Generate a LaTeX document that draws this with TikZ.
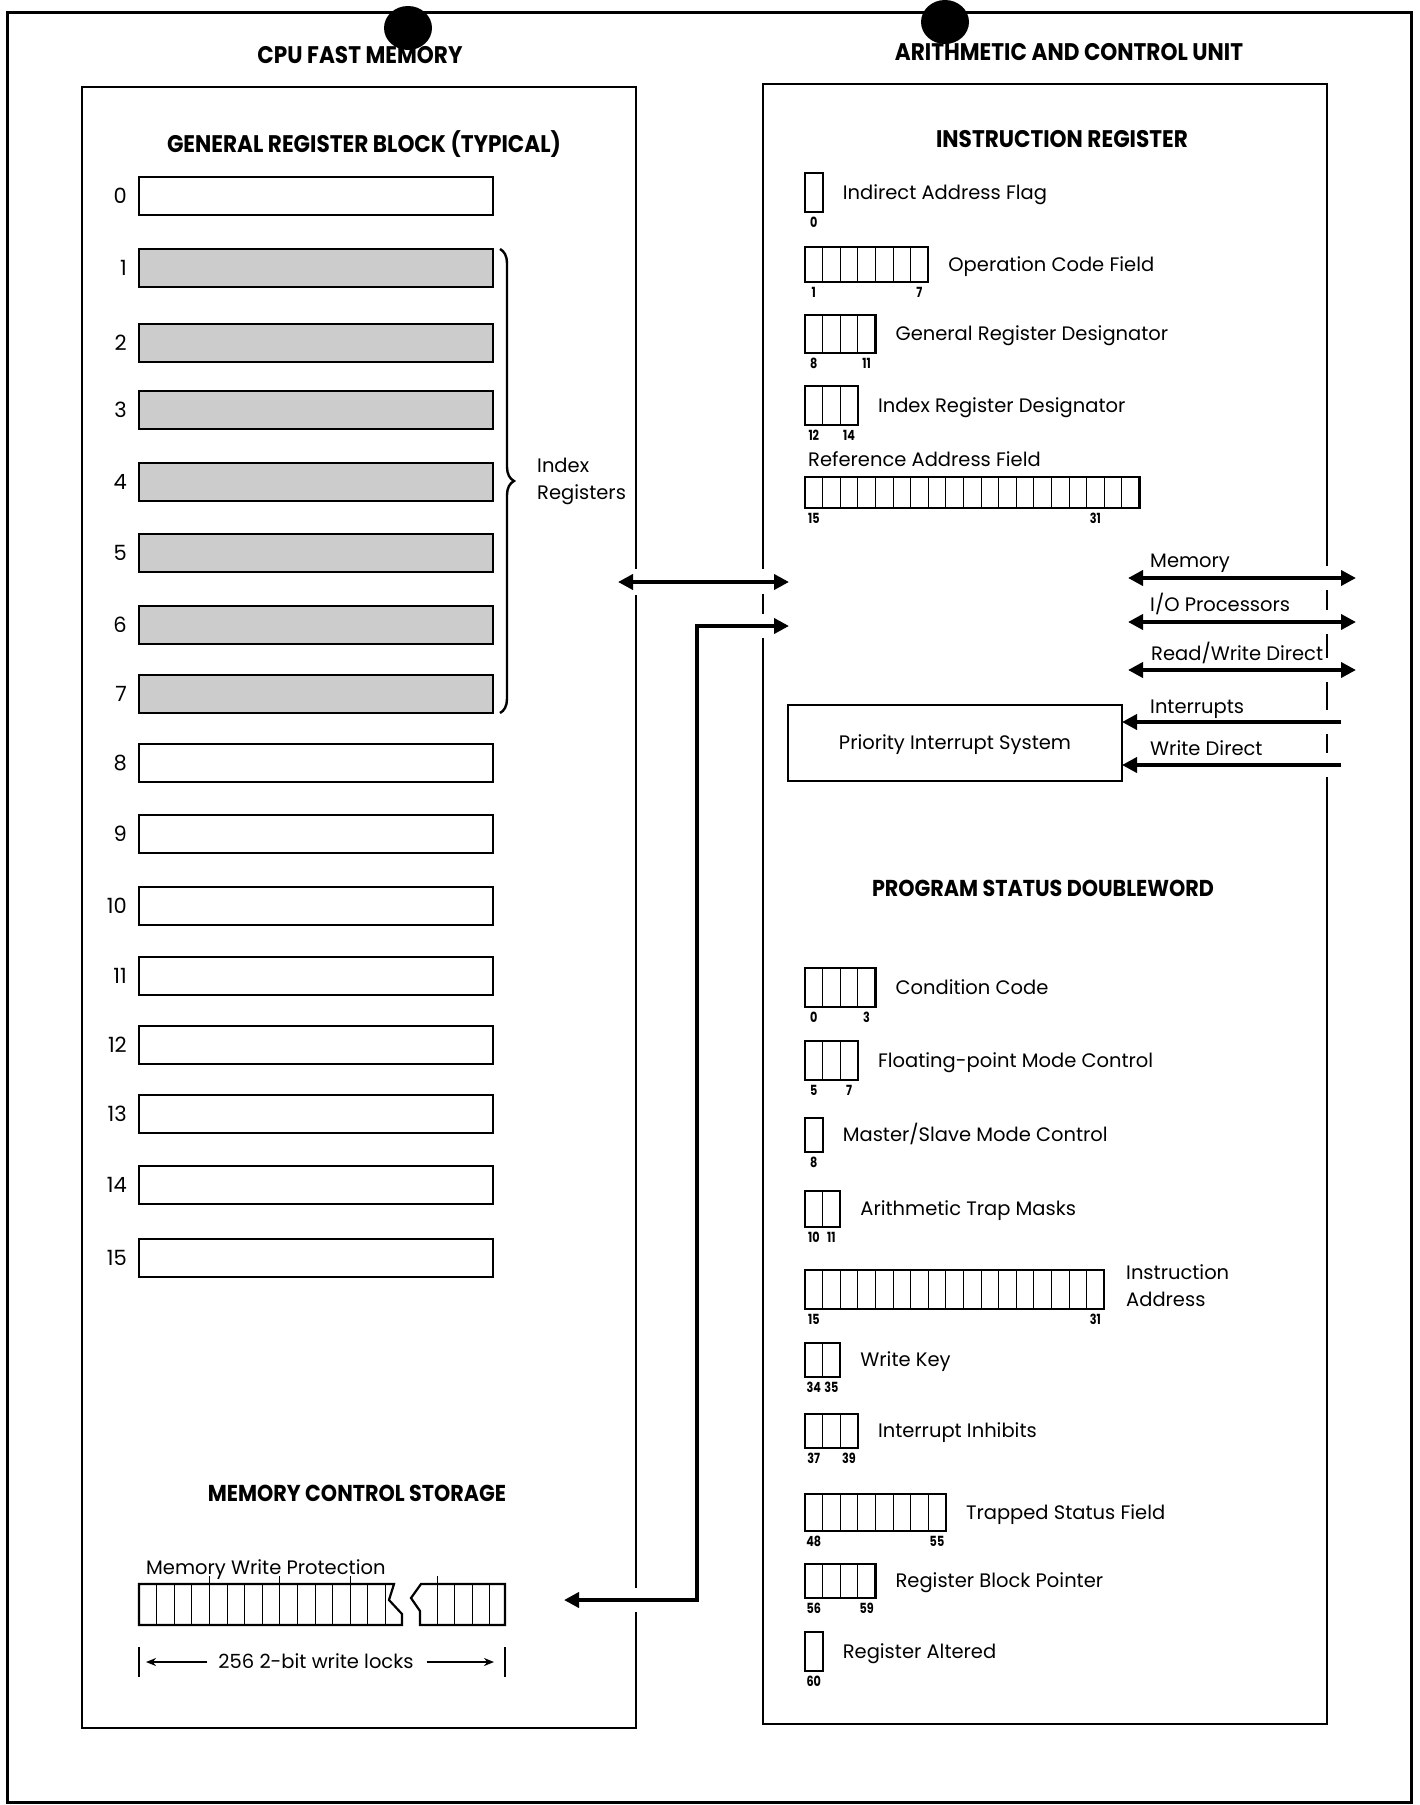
\documentclass[tikz,border=0pt]{standalone}
\usepackage{fontspec}
\setmainfont{Poppins}
\newfontfamily\narrowfont[FakeStretch=0.9]{Poppins}
\newfontfamily\digitfont[FakeStretch=0.8]{Poppins}
\usetikzlibrary{arrows.meta,positioning,decorations.pathreplacing}

\def\cellw{17.6}
% name, centre y, cells, height, first bit, last bit, cell of last bit, text
\newcommand{\bitfield}[8]{%
  \node[field, minimum width={#3*\cellw*1pt}, minimum height={#4*1pt}] (#1) at (805,#2) {};
  \ifnum#3>1
    \foreach \k in {2,...,#3}
      \draw[divider] ([xshift={(\k-1)*\cellw*1pt}]#1.north west) -- ([xshift={(\k-1)*\cellw*1pt}]#1.south west);
  \fi
  \node[bitnum] at ([xshift={0.5*\cellw*1pt}, yshift=-11pt]#1.south west) {#5};
  \node[bitnum] at ([xshift={(#7-0.5)*\cellw*1pt}, yshift=-11pt]#1.south west) {#6};
  \node[lbl, align=left, right=20pt of #1] (#1-t) {#8};
}

\begin{document}
\begin{tikzpicture}[x=1pt, y=-1pt, >={Triangle[length=15pt,width=15pt]},
  frame/.style={draw, line width=3pt},
  panel/.style={draw, line width=2.5pt},
  gap/.style={fill=white},
  title/.style={font=\narrowfont\bfseries\fontsize{24}{28}\selectfont, inner sep=0, text height=17pt, text depth=0pt},
  subtitle/.style={font=\narrowfont\bfseries\fontsize{23}{28}\selectfont, inner sep=0, text height=16pt, text depth=0pt},
  lbl/.style={font=\fontsize{19.5}{27}\selectfont, inner sep=0, text height=13.6pt, text depth=0pt},
  reg/.style={draw, line width=2.5pt, minimum width=354pt, minimum height=38pt, outer sep=0, inner sep=0},
  regnum/.style={font=\fontsize{21}{24}\selectfont, inner sep=0, text height=14.7pt, text depth=0pt},
  field/.style={draw, line width=2.2pt, anchor=west, outer sep=0, inner sep=0},
  divider/.style={line width=1pt},
  bitnum/.style={font=\digitfont\bfseries\fontsize{14}{16}\selectfont, inner sep=0, text height=9.8pt, text depth=0pt},
  box/.style={draw, line width=2.2pt, minimum width=334pt, minimum height=76pt, outer sep=0},
  bus/.style={line width=4.5pt},
  dim/.style={line width=1.5pt, -{Stealth[length=10pt,width=8pt]}},
  brace/.style={decorate, decoration={brace, amplitude=14pt}, line width=2.4pt}]
\useasboundingbox (0,0) rectangle (1420,1805);
\draw[frame] (7,12) rectangle (1411,1802);

\node[title] (cpu-title) at (360,55) {CPU FAST MEMORY};
\node[title] (acu-title) at (1069,52) {ARITHMETIC AND CONTROL UNIT};
\draw[panel] (82,87) rectangle (636,1728);
\draw[panel] (763,84) rectangle (1327,1724);

% general register block
\node[title] (grb-title) at (364,144) {GENERAL REGISTER BLOCK (TYPICAL)};
\foreach \i/\y/\f in {0/196/white, 1/268/black!20, 2/343/black!20, 3/410/black!20, 4/482/black!20,
    5/553/black!20, 6/625/black!20, 7/694/black!20, 8/763/white, 9/834/white, 10/906/white,
    11/976/white, 12/1045/white, 13/1114/white, 14/1185/white, 15/1258/white} {
  \node[reg, fill=\f] (r\i) at (316,\y) {};
  \node[regnum, anchor=east, left=12pt of r\i] {\i};
}
\draw[brace] ([xshift=7pt]r1.north east) -- ([xshift=7pt]r7.south east);
\node[lbl, align=left, anchor=west] (idx) at (537,493) {Index\\Registers};

% memory control storage
\node[subtitle] (mcs-title) at (357,1493) {MEMORY CONTROL STORAGE};
\node[lbl, anchor=west] (mwp) at (146,1568) {Memory Write Protection};
\draw[line width=2.2pt] (139,1584) -- (394,1584) -- (389,1600) -- (402,1614) -- (402,1625) -- (139,1625) -- cycle;
\draw[line width=2.2pt] (421,1584) -- (411,1598) -- (420,1611) -- (420,1625) -- (505,1625) -- (505,1584) -- cycle;
\foreach \k in {1,...,14}
  \draw[divider] ({139+\k*17.6},1584) -- ({139+\k*17.6},1625);
\foreach \k in {4,8,12}
  \draw[divider] ({139+\k*17.6},1584) -- ++(0,-8);
\foreach \k in {0,...,3}
  \draw[divider] ({437+\k*17.6},1584) -- ({437+\k*17.6},1625);
\draw[divider] (437,1584) -- ++(0,-8);
\coordinate (dim-l) at (139,1662);
\coordinate (dim-r) at (505,1662);
\draw[line width=1.5pt] (139,1647) -- (139,1677) (505,1647) -- (505,1677);
\node[lbl] (dim-txt) at (316,1662) {256 2-bit write locks};
\draw[dim, shorten <=11pt, shorten >=7pt] (dim-txt.west) -- (dim-l);
\draw[dim, shorten <=13pt, shorten >=11pt] (dim-txt.east) -- (dim-r);

% instruction register
\node[title] (ir-title) at (1062,139) {INSTRUCTION REGISTER};
\bitfield{ir-ia}{192.5}{1}{39}{0}{}{1}{Indirect Address Flag}
\bitfield{ir-op}{264.5}{7}{35}{1}{7}{7}{Operation Code Field}
\bitfield{ir-gr}{334}{4}{38}{8}{11}{4}{General Register Designator}
\bitfield{ir-xr}{405.5}{3}{39}{12}{14}{3}{Index Register Designator}
\node[lbl, anchor=west] (ir-ra-t) at (808,460) {Reference Address Field};
\bitfield{ir-ra}{492.5}{19}{31}{15}{31}{17}{}

% priority interrupt system
\node[box] (pis) at (955,743) {};
\node[lbl] at (pis) {Priority Interrupt System};

% program status doubleword
\node[subtitle] (psd-title) at (1043,888) {PROGRAM STATUS DOUBLEWORD};
\bitfield{ps-cc}{987.5}{4}{39}{0}{3}{4}{Condition Code}
\bitfield{ps-fp}{1060.5}{3}{39}{5}{7}{3}{Floating-point Mode Control}
\bitfield{ps-ms}{1135}{1}{34}{8}{}{1}{Master/Slave Mode Control}
\bitfield{ps-at}{1209}{2}{36}{10}{11}{2}{Arithmetic Trap Masks}
\bitfield{ps-ia}{1289.5}{17}{39}{15}{31}{17}{}
\node[lbl, align=left, anchor=west] (ps-ia-txt) at (1126,1300) {Instruction\\Address};
\bitfield{ps-wk}{1360}{2}{34}{34}{35}{2}{Write Key}
\bitfield{ps-ii}{1431}{3}{34}{37}{39}{3}{Interrupt Inhibits}
\bitfield{ps-ts}{1512.5}{8}{37}{48}{55}{8}{Trapped Status Field}
\bitfield{ps-rb}{1581}{4}{34}{56}{59}{4}{Register Block Pointer}
\bitfield{ps-ra}{1651.5}{1}{39}{60}{}{1}{Register Altered}

% breaks in the panel borders where the buses cross
\fill[gap] (632,569) rectangle (640,595);
\fill[gap] (632,1588) rectangle (640,1612);
\fill[gap] (759,569) rectangle (767,594);
\fill[gap] (759,614) rectangle (767,638);
\foreach \y in {578,622,670,722,765}
  \fill[gap] (1323,\y-12) rectangle (1331,\y+12);

% buses
\coordinate (cpu-port) at (618,582);
\coordinate (acu-port) at (789,582);
\coordinate (mcs-port) at (564,1600);
\coordinate (bend-lo) at (697,1600);
\coordinate (bend-hi) at (697,626);
\coordinate (acu-lo) at (789,626);
\draw[bus, <->] (cpu-port) -- (acu-port);
\draw[bus, <->] (mcs-port) -- (bend-lo) -- (bend-hi) -- (acu-lo);

\coordinate (mem-l) at (1128,578);
\coordinate (mem-r) at (1356,578);
\coordinate (iop-l) at (1128,622);
\coordinate (iop-r) at (1356,622);
\coordinate (rwd-l) at (1128,670);
\coordinate (rwd-r) at (1356,670);
\coordinate (int-r) at (1341,722);
\coordinate (wd-r) at (1341,765);
\draw[bus, <->] (mem-l) -- (mem-r);
\draw[bus, <->] (iop-l) -- (iop-r);
\draw[bus, <->] (rwd-l) -- (rwd-r);
\draw[bus, ->] (int-r) -- (int-r -| pis.east);
\draw[bus, ->] (wd-r) -- (wd-r -| pis.east);
\node[lbl, anchor=west] (mem-t) at (1150,561) {Memory};
\node[lbl, anchor=west] (iop-t) at (1150,605) {I/O Processors};
\node[lbl, anchor=west] (rwd-t) at (1151,654) {Read/Write Direct};
\node[lbl, anchor=west] (int-t) at (1150,707) {Interrupts};
\node[lbl, anchor=west] (wd-t) at (1150,749) {Write Direct};

% punch holes
\fill (408,28) ellipse [x radius=24pt, y radius=22pt];
\fill (945,22) ellipse [x radius=24pt, y radius=22pt];
\end{tikzpicture}
\end{document}
